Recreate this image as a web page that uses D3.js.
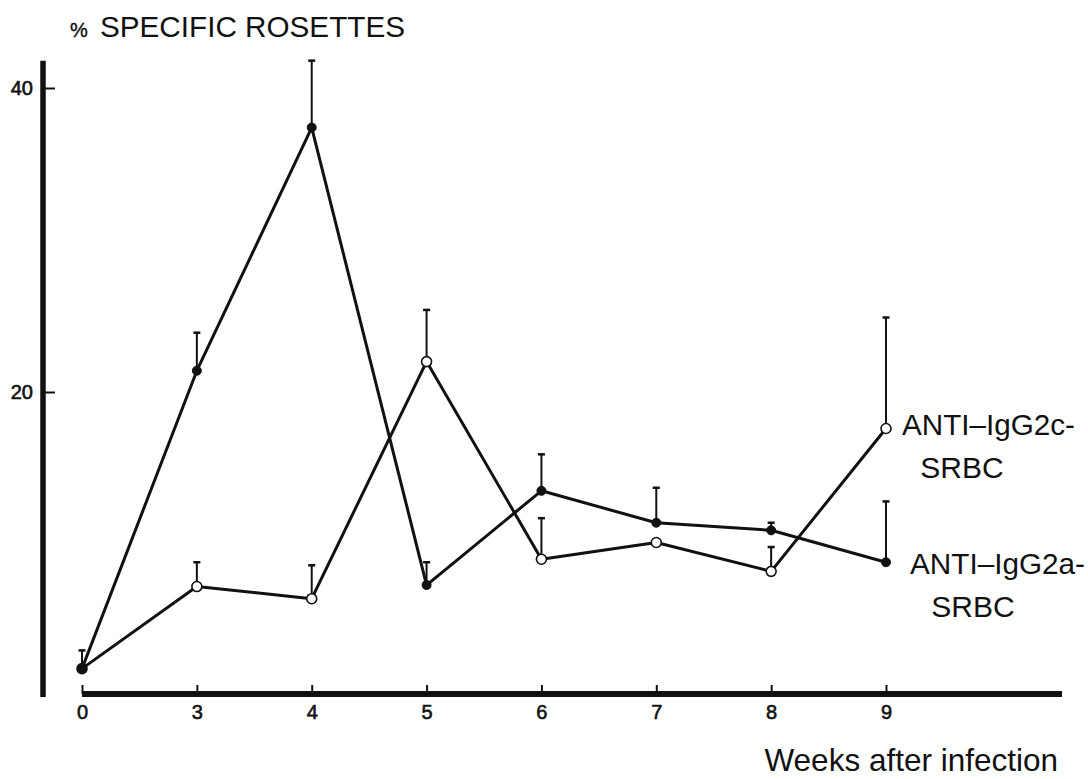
<!DOCTYPE html>
<html>
<head>
<meta charset="utf-8">
<script src="https://cdn.jsdelivr.net/npm/d3@7/dist/d3.min.js"></script>
<style>
  html, body { margin: 0; padding: 0; background: #fff; }
  svg { display: block; }
  text { font-family: "Liberation Sans", Arial, Helvetica, sans-serif; fill: #111; }
</style>
</head>
<body>
<script>
// Weeks after infection (categorical positions, evenly spaced)
const weeks = ["0", "3", "4", "5", "6", "7", "8", "9"];

// ANTI-IgG2a-SRBC (filled circles): mean % and upper error limit
const g2aMean = [1.8, 21.4, 37.4, 7.3, 13.5, 11.4, 10.9, 8.8];
const g2aUpper = [3.0, 23.9, 41.8, 8.8, 15.9, 13.7, 11.4, 12.8];

// ANTI-IgG2c-SRBC (open circles): mean % and upper error limit
const g2cMean = [1.8, 7.2, 6.4, 22.0, 9.0, 10.1, 8.2, 17.6];
const g2cUpper = [null, 8.8, 8.6, 25.4, 11.7, null, 9.8, 24.9];

const yTicks = [20, 40];

const W = 1088, H = 779;
const svg = d3.select("body").append("svg").attr("width", W).attr("height", H);

const x = d3.scalePoint().domain(weeks).range([82, 886]);
const y = d3.scaleLinear().domain([0, 40]).range([696, 88]);

const axisX = 43, baseY = 694;

// Y axis: heavy vertical rule with short inward ticks
svg.append("line")
  .attr("x1", axisX).attr("x2", axisX)
  .attr("y1", y(41.8)).attr("y2", 697)
  .attr("stroke", "#111").attr("stroke-width", 5.5);

const gy = svg.append("g").attr("transform", `translate(${axisX},0)`)
  .call(d3.axisLeft(y).tickValues(yTicks).tickSize(-12).tickPadding(10).tickFormat(d3.format("d")));
gy.select(".domain").remove();
gy.selectAll(".tick line").attr("stroke", "#111").attr("stroke-width", 2);
gy.selectAll(".tick text").attr("font-size", 20).attr("fill", "#111")
  .attr("stroke", "#111").attr("stroke-width", 0.6);

// X axis: heavy horizontal rule extending past the last week
svg.append("line")
  .attr("x1", x("0")).attr("x2", 1062)
  .attr("y1", baseY).attr("y2", baseY)
  .attr("stroke", "#111").attr("stroke-width", 6);

const gx = svg.append("g").attr("transform", `translate(0,${baseY})`)
  .call(d3.axisBottom(x).tickSize(-9).tickPadding(11));
gx.select(".domain").remove();
gx.selectAll(".tick line").attr("stroke", "#111").attr("stroke-width", 2);
gx.selectAll(".tick text").attr("font-size", 20).attr("fill", "#111")
  .attr("stroke", "#111").attr("stroke-width", 0.6);

// Titles
svg.append("text").attr("x", 70).attr("y", 37).attr("font-size", 20)
  .attr("stroke", "#111").attr("stroke-width", 0.4).text("%");
svg.append("text").attr("x", 100).attr("y", 37).attr("font-size", 29.5)
  .attr("textLength", 305).attr("lengthAdjust", "spacingAndGlyphs")
  .text("SPECIFIC ROSETTES");

svg.append("text").attr("x", 1058).attr("y", 771).attr("text-anchor", "end")
  .attr("font-size", 31.5).text("Weeks after infection");

// Series drawing
function drawSeries(mean, upper, filled) {
  const pts = weeks.map((w, i) => ({ w, m: mean[i], u: upper[i] }));
  const line = d3.line().x(d => x(d.w)).y(d => y(d.m));
  svg.append("path").datum(pts).attr("d", line)
    .attr("fill", "none").attr("stroke", "#111").attr("stroke-width", 3)
    .attr("stroke-linejoin", "round");
  const eb = svg.append("g");
  pts.filter(d => d.u != null).forEach(d => {
    eb.append("line").attr("x1", x(d.w)).attr("x2", x(d.w))
      .attr("y1", y(d.m)).attr("y2", y(d.u))
      .attr("stroke", "#111").attr("stroke-width", 2);
    eb.append("line").attr("x1", x(d.w) - 3.5).attr("x2", x(d.w) + 3.5)
      .attr("y1", y(d.u)).attr("y2", y(d.u))
      .attr("stroke", "#111").attr("stroke-width", 2.5);
  });
  svg.append("g").selectAll("circle").data(pts).join("circle")
    .attr("cx", d => x(d.w)).attr("cy", d => y(d.m))
    .attr("r", filled ? 4.5 : 5)
    .attr("fill", filled ? "#111" : "#fff")
    .attr("stroke", "#111").attr("stroke-width", filled ? 1 : 1.6);
}

drawSeries(g2cMean, g2cUpper, false);
drawSeries(g2aMean, g2aUpper, true);

// Series labels
function label(lines, x0, y0, len, xc) {
  svg.append("text").attr("x", x0).attr("y", y0).attr("font-size", 30)
    .attr("textLength", len).attr("lengthAdjust", "spacingAndGlyphs").text(lines[0]);
  svg.append("text").attr("x", xc).attr("y", y0 + 43).attr("font-size", 30)
    .attr("text-anchor", "middle").text(lines[1]);
}
label(["ANTI\u2013IgG2c-", "SRBC"], 902, 435, 173, 962);
label(["ANTI\u2013IgG2a-", "SRBC"], 910, 574, 175, 973);
</script>
</body>
</html>
